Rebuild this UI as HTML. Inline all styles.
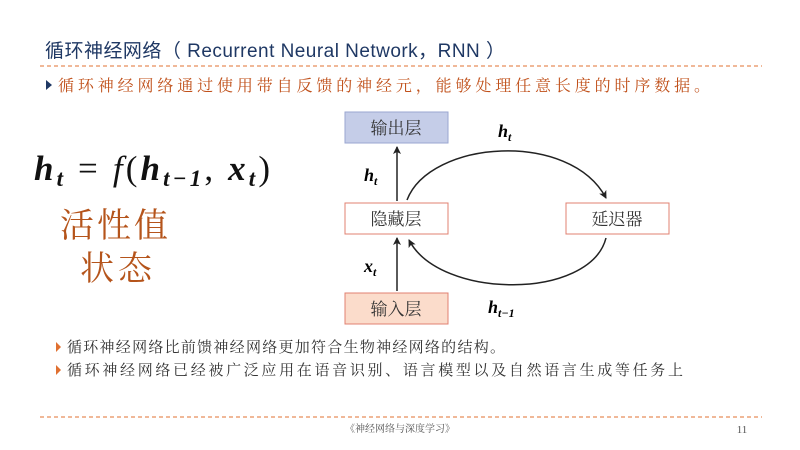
<!DOCTYPE html>
<html><head><meta charset="utf-8"><style>
html,body{margin:0;padding:0;background:#fff;}
svg{display:block;}
text{font-family:"Liberation Sans","Noto Sans CJK SC",sans-serif;}
.cj{font-family:"Liberation Serif","Noto Serif CJK SC",serif;}
.m{font-family:"Liberation Serif","DejaVu Serif",serif;font-style:italic;font-weight:bold;}
</style></head><body>
<svg width="800" height="450" viewBox="0 0 800 450">
<defs><marker id="a" markerWidth="8" markerHeight="8" refX="7" refY="4" orient="auto" markerUnits="userSpaceOnUse"><path d="M0,0 L8,4 L0,8 L2,4z" fill="#222"/></marker></defs>
<text x="45" y="57" font-size="19" fill="#1f3864" textLength="460" lengthAdjust="spacing">循环神经网络（ Recurrent Neural Network，RNN ）</text>
<line x1="40" y1="66" x2="762" y2="66" stroke="#e07030" stroke-width="1" stroke-dasharray="4,3"/>
<path d="M46,80 L52,85 L46,90z" fill="#1f3864"/>
<text class="cj" x="58" y="91" font-size="16" fill="#c0501a" textLength="652" lengthAdjust="spacing">循环神经网络通过使用带自反馈的神经元，能够处理任意长度的时序数据。</text>
<text class="m" x="34" y="180" font-size="35" fill="#111" textLength="236" lengthAdjust="spacing">h<tspan font-size="23" dy="6">t</tspan><tspan dy="-6" font-style="normal" font-weight="normal"> = </tspan><tspan font-weight="normal">f</tspan><tspan font-style="normal" font-weight="normal">(</tspan>h<tspan font-size="23" dy="6">t−1</tspan><tspan dy="-6" font-style="normal" font-weight="normal">, </tspan>x<tspan font-size="23" dy="6">t</tspan><tspan dy="-6" font-style="normal" font-weight="normal">)</tspan></text>
<text class="cj" x="60" y="237" font-size="34" fill="#b5541b" textLength="108" lengthAdjust="spacing">活性值</text>
<text class="cj" x="80" y="280" font-size="34" fill="#b5541b" textLength="72" lengthAdjust="spacing">状态</text>
<rect x="345" y="112" width="103" height="31" fill="#c5cde8" stroke="#9aa6d0"/>
<text class="cj" x="396" y="134" font-size="17" text-anchor="middle" fill="#333">输出层</text>
<rect x="345" y="203" width="103" height="31" fill="#fff" stroke="#e08070"/>
<text class="cj" x="396" y="225" font-size="17" text-anchor="middle" fill="#333">隐藏层</text>
<rect x="566" y="203" width="103" height="31" fill="#fff" stroke="#e08070"/>
<text class="cj" x="617" y="225" font-size="17" text-anchor="middle" fill="#333">延迟器</text>
<rect x="345" y="293" width="103" height="31" fill="#fbdccb" stroke="#e08070"/>
<text class="cj" x="396" y="315" font-size="17" text-anchor="middle" fill="#333">输入层</text>
<line x1="397" y1="201" x2="397" y2="147" stroke="#222" stroke-width="1.5" marker-end="url(#a)"/>
<line x1="397" y1="291" x2="397" y2="238" stroke="#222" stroke-width="1.5" marker-end="url(#a)"/>
<path d="M407,200 C430,140 570,130 606,198" fill="none" stroke="#222" stroke-width="1.5" marker-end="url(#a)"/>
<path d="M606,238 C590,300 440,300 409,240" fill="none" stroke="#222" stroke-width="1.5" marker-end="url(#a)"/>
<text class="m" x="364" y="181" font-size="18">h<tspan font-size="12" dy="4">t</tspan></text>
<text class="m" x="364" y="272" font-size="18">x<tspan font-size="12" dy="4">t</tspan></text>
<text class="m" x="498" y="137" font-size="18">h<tspan font-size="12" dy="4">t</tspan></text>
<text class="m" x="488" y="313" font-size="18">h<tspan font-size="12" dy="4">t−1</tspan></text>
<path d="M56,342 L61,347 L56,352z" fill="#e07030"/>
<text class="cj" x="67" y="352" font-size="15" fill="#333" textLength="438" lengthAdjust="spacing">循环神经网络比前馈神经网络更加符合生物神经网络的结构。</text>
<path d="M56,365 L61,370 L56,375z" fill="#e07030"/>
<text class="cj" x="67" y="375" font-size="15" fill="#333" textLength="616" lengthAdjust="spacing">循环神经网络已经被广泛应用在语音识别、语言模型以及自然语言生成等任务上</text>
<line x1="40" y1="417" x2="762" y2="417" stroke="#e07030" stroke-width="1" stroke-dasharray="4,3"/>
<text class="cj" x="400" y="432" font-size="10" text-anchor="middle" fill="#555">《神经网络与深度学习》</text>
<text class="cj" x="742" y="433" font-size="11" text-anchor="middle" fill="#555">11</text>
</svg>
</body></html>
